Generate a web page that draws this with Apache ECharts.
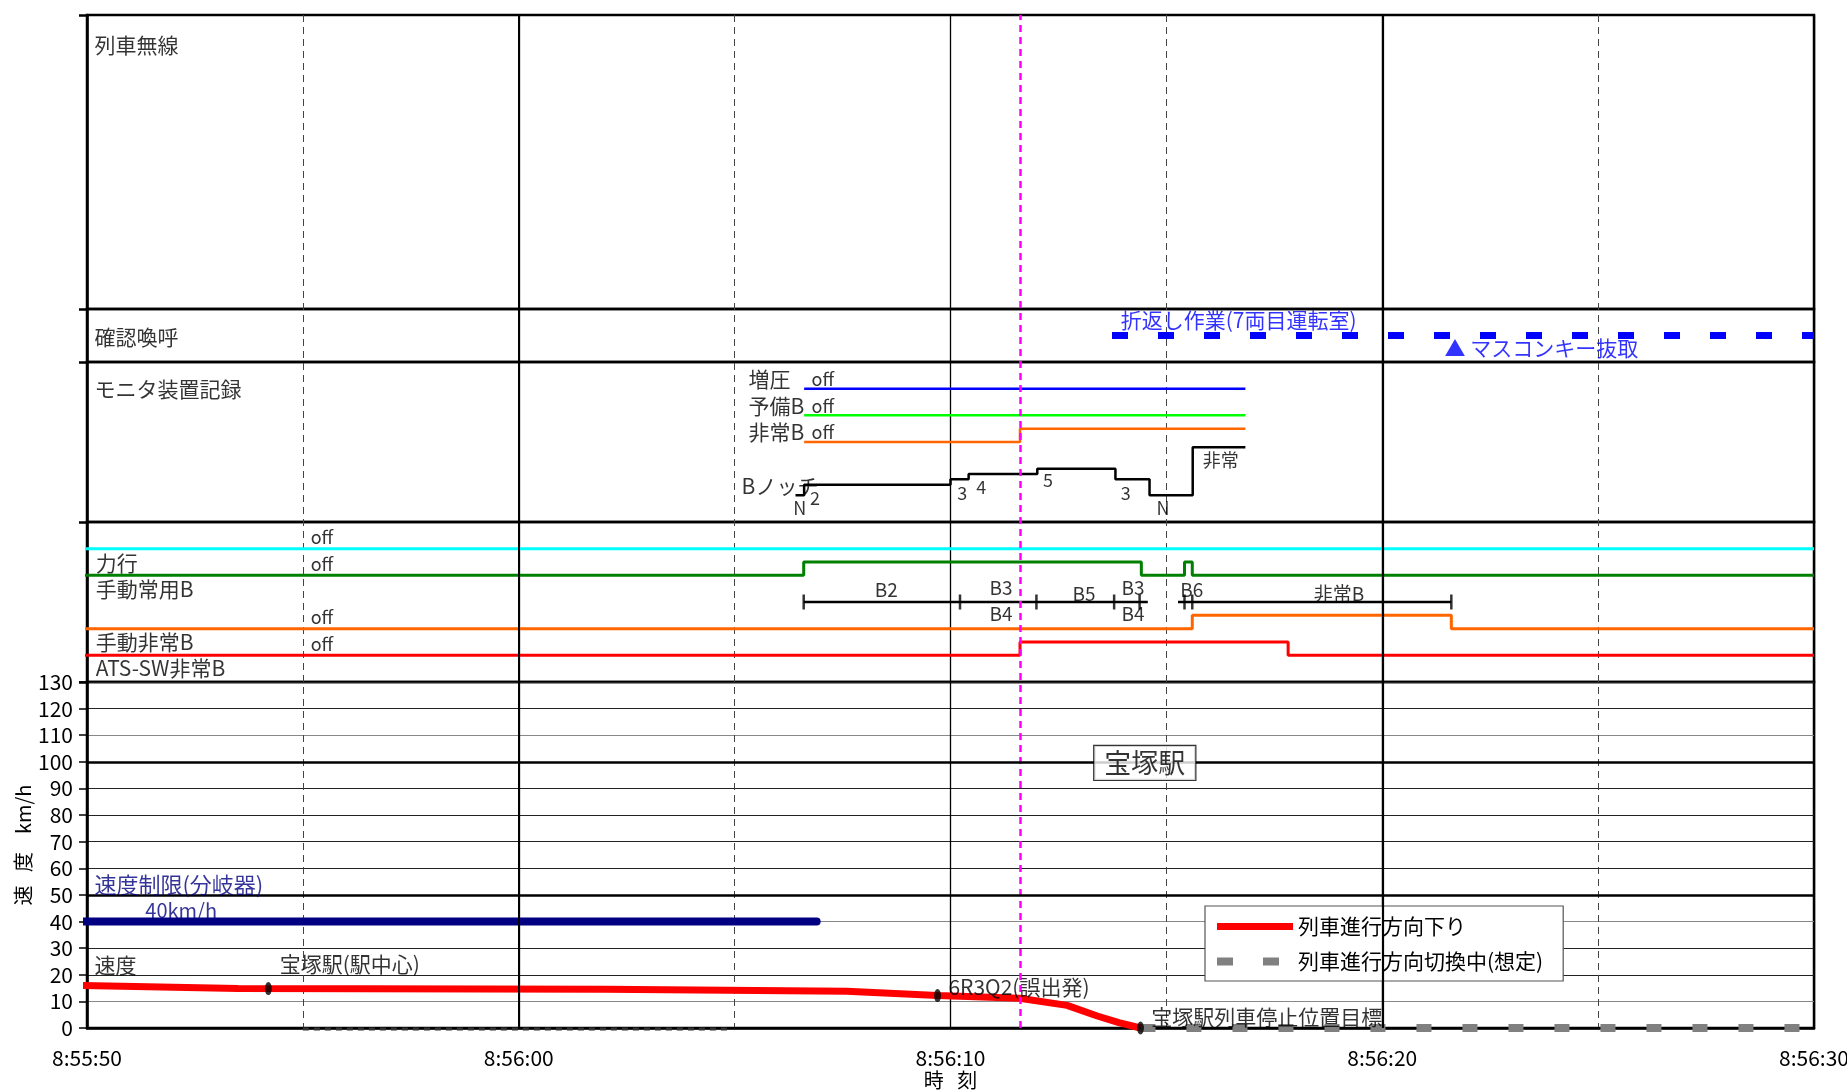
<!DOCTYPE html>
<html>
<head>
<meta charset="utf-8">
<script src="https://cdn.jsdelivr.net/npm/echarts@6/dist/echarts.min.js"></script>
<style>
html, body { margin: 0; padding: 0; background: #fff; }
#main { width: 1847px; height: 1091px; }
</style>
</head>
<body>
<div id="main"></div>
<script>
// time axis: seconds after 8:55:50
var timeLabels = ['8:55:50', '8:56:00', '8:56:10', '8:56:20', '8:56:30'];
var tMax = 40;
var magentaT = 21.61;

// 速度 (km/h)
var speedDown = [[-0.15, 16], [3.5, 14.8], [12, 14.6], [17.6, 13.8], [19.7, 12.2], [21.6, 11.2], [22.7, 8.5], [23.4, 4.5], [23.9, 2], [24.4, 0]];
var speedSwitching = [[24.4, 0], [40, 0]];
var speedOld = [[5, -0.4], [14.9, -0.4]];
var speedLimit = [[-0.16, 40], [16.9, 40]];
var speedMarks = [[4.2, 14.8], [19.7, 12.2], [24.4, 0]];

// 確認喚呼
var turnbackWork = [[23.74, 1], [40, 1]];

// モニタ装置記録 (0 = off, 1 = on)
var zouatsu = [[16.61, 0], [26.83, 0]];
var yobiB = [[16.61, 0], [26.83, 0]];
var hijoBMon = [[16.61, 0], [21.61, 1], [26.83, 1]];
// Bノッチ: N = 0, 非常 = 9
var bNotch = [[16.41, 0], [16.61, 2], [20.0, 3], [20.42, 4], [22.01, 5], [23.82, 3], [24.61, 0], [25.61, 9], [26.83, 9]];

// 信号 (0 = off, 1 = on)
var topSignal = [[-0.16, 0], [40, 0]];
var rikikou = [[-0.16, 0], [16.6, 1], [24.42, 0], [25.42, 1], [25.6, 0], [40, 0]];
var shudouHijoB = [[-0.16, 0], [25.6, 1], [31.6, 0], [40, 0]];
var atsHijoB = [[-0.16, 0], [21.61, 1], [27.82, 0], [40, 0]];
var shudouJoyoSegs = [[16.6, 24.57], [25.27, 31.6]];
var shudouJoyoTicks = [16.6, 20.22, 21.99, 23.79, 24.38, 25.42, 25.6, 31.6];

// texts [t, y, text]
var titlesA = [[0.16, 0.898, '列車無線']];
var titlesB = [[0.16, 0.94, '確認喚呼']];
var blueTexts = [[23.93, 1.585, '折返し作業(7両目運転室)'], [31.43, 0.53, '▲ マスコンキー抜取']];
var titlesC = [[0.16, 4.99, 'モニタ装置記録'], [15.31, 5.36, '増圧'], [15.31, 4.35, '予備B'], [15.31, 3.375, '非常B'], [15.15, 1.35, 'Bノッチ']];
var offC = [[16.77, 5.36, 'off'], [16.77, 4.35, 'off'], [16.77, 3.375, 'off']];
var notchTexts = [[16.51, 0.525, 'N'], [16.86, 0.9, '2'], [20.27, 1.09, '3'], [20.71, 1.31, '4'], [22.26, 1.575, '5'], [24.06, 1.09, '3'], [24.92, 0.525, 'N'], [26.26, 2.325, '非常']];
var titlesD = [[0.19, 4.47, '力行'], [0.19, 3.48, '手動常用B'], [0.19, 1.51, '手動非常B'], [0.19, 0.51, 'ATS-SW非常B']];
var offD = [[5.17, 5.44, 'off'], [5.17, 4.42, 'off'], [5.17, 2.45, 'off'], [5.17, 1.43, 'off']];
var brakeTexts = [[18.51, 3.45, 'B2'], [21.17, 3.525, 'B3'], [21.17, 2.55, 'B4'], [23.09, 3.3, 'B5'], [24.23, 3.525, 'B3'], [24.23, 2.55, 'B4'], [25.59, 3.45, 'B6'], [29.0, 3.3, '非常B']];
var speedTexts = [[0.16, 23.7, '速度'], [4.45, 24, '宝塚駅(駅中心)'], [19.94, 15.4, '6R3Q2(誤出発)'], [24.64, 4.1, '宝塚駅列車停止位置目標']];
var limitTexts = [[0.16, 53.7, '速度制限(分岐器)'], [1.34, 44, '40km/h']];
var stationText = [[24.5, 99.6, '宝塚駅']];

var JP = "'Noto Sans CJK JP', sans-serif";
var NUM = "'Liberation Sans Narrow', 'Noto Sans CJK JP', sans-serif";

var chartDom = document.getElementById('main');
var myChart = echarts.init(chartDom);

function labelSeries(idx, list, opt) {
    return {
        type: 'scatter', xAxisIndex: idx, yAxisIndex: idx, silent: true, z: 6,
        symbolSize: 1, itemStyle: { color: 'rgba(0,0,0,0)' },
        data: list.map(function (d) { return { name: d[2], value: [d[0], d[1]] }; }),
        label: Object.assign({
            show: true, formatter: '{b}', position: 'right', distance: 0,
            color: '#000', fontSize: 21, fontFamily: JP
        }, opt || {})
    };
}

function stepLine(idx, data, base, amp, color, width) {
    return {
        type: 'line', xAxisIndex: idx, yAxisIndex: idx, step: 'end', symbol: 'none',
        clip: false, silent: true, z: 3,
        data: data.map(function (d) { return [d[0], base + d[1] * amp]; }),
        lineStyle: { color: color, width: width }
    };
}

var L = 87, R = 33;
var grids = [
    { left: L, right: R, top: 15, bottom: 63, show: false },
    { left: L, right: R, top: 15, height: 294 },
    { left: L, right: R, top: 309, height: 53 },
    { left: L, right: R, top: 362, height: 160 },
    { left: L, right: R, top: 522, height: 160 },
    { left: L, right: R, top: 682, height: 346 }
];
grids.forEach(function (g, i) {
    g.outerBoundsMode = 'none';
    g.containLabel = false;
    if (i > 0) {
        g.show = true;
        g.borderColor = '#000';
        g.borderWidth = 2.5;
    }
});

var xAxes = grids.map(function (g, i) {
    var ax = { type: 'value', gridIndex: i, min: 0, max: tMax, interval: 10, show: false };
    if (i === 0) {
        ax.show = true;
        ax.axisLine = { show: false };
        ax.axisTick = { show: false };
        ax.axisLabel = { show: false };
        ax.splitLine = { show: true, lineStyle: { color: '#000', width: 1.3 } };
        ax.minorTick = { show: false, splitNumber: 2 };
        ax.minorSplitLine = { show: true, lineStyle: { color: '#444', width: 1, type: [7, 5] } };
    }
    if (i === 5) {
        ax.show = true;
        ax.axisLine = { show: true, lineStyle: { color: '#000', width: 2.5 } };
        ax.axisTick = { show: false };
        ax.splitLine = { show: false };
        ax.axisLabel = {
            fontSize: 21, fontFamily: NUM, color: '#000', margin: 20,
            formatter: function (v) { return timeLabels[Math.round(v / 10)]; }
        };
        ax.name = '時   刻';
        ax.nameLocation = 'middle';
        ax.nameGap = 42;
        ax.nameTextStyle = { fontSize: 20, fontFamily: JP, color: '#000' };
    }
    return ax;
});

var yRanges = [[0, 1, 1], [0, 1, 1], [0, 2, 2], [0, 6, 6], [0, 6, 6], [0, 130, 10]];
var yAxes = yRanges.map(function (r, i) {
    var ax = {
        type: 'value', gridIndex: i, min: r[0], max: r[1], interval: r[2],
        axisLine: { show: true, lineStyle: { color: '#000', width: 2.5 } },
        axisTick: { show: true, length: 8, lineStyle: { color: '#000', width: 2.5 } },
        axisLabel: { show: false },
        splitLine: { show: false }
    };
    if (i === 0) ax.show = false;
    if (i === 5) {
        ax.axisTick = { show: true, length: 8, lineStyle: { color: '#000', width: 1.5 } };
        ax.axisLabel = { show: true, fontSize: 21, fontFamily: NUM, color: '#000', margin: 14 };
        ax.splitLine = {
            show: true,
            lineStyle: {
                width: 1,
                color: ['#222', '#888', '#222', '#222', '#888', '#222', '#222', '#222', '#222', '#222', '#222', '#888', '#222', '#222']
            }
        };
        ax.name = '速   度    km/h';
        ax.nameLocation = 'middle';
        ax.nameRotate = 90;
        ax.nameGap = 54;
        ax.nameMoveOverlap = false;
        ax.nameTextStyle = { fontSize: 20, fontFamily: JP, color: '#000', padding: [0, 0, 0, 20] };
    }
    return ax;
});

var series = [
    // vertical lines across all bands
    {
        type: 'line', xAxisIndex: 0, yAxisIndex: 0, data: [], silent: true,
        markLine: {
            symbol: 'none', silent: true, label: { show: false },
            data: [
                { xAxis: 10, lineStyle: { color: '#000', width: 2, type: 'solid' } },
                { xAxis: 30, lineStyle: { color: '#000', width: 2.2, type: 'solid' } },
                { xAxis: magentaT, lineStyle: { color: '#FF00FF', width: 2.5, type: [7, 5] } }
            ]
        },
        z: 5
    },
    // thick speed grid lines
    {
        type: 'line', xAxisIndex: 5, yAxisIndex: 5, data: [], silent: true,
        markLine: {
            symbol: 'none', silent: true, label: { show: false },
            lineStyle: { color: '#000', width: 2.5, type: 'solid' },
            data: [{ yAxis: 50 }, { yAxis: 100 }]
        },
        z: 1
    },
    labelSeries(1, titlesA),
    labelSeries(2, titlesB),
    {
        type: 'line', xAxisIndex: 2, yAxisIndex: 2, data: turnbackWork, symbol: 'none', silent: true,
        lineStyle: { color: '#0000FF', width: 7, type: [16, 30], cap: 'butt' }
    },
    labelSeries(2, blueTexts, { color: '#0000FF', fontSize: 21 }),
    stepLine(3, zouatsu, 5, 0.5, '#0000FF', 2.5),
    stepLine(3, yobiB, 4, 0.5, '#00FF00', 2.5),
    stepLine(3, hijoBMon, 3, 0.5, '#FF6600', 2.5),
    stepLine(3, bNotch, 1, 0.2, '#000', 2.5),
    labelSeries(3, titlesC),
    labelSeries(3, offC, { fontSize: 18 }),
    labelSeries(3, notchTexts, { position: 'inside', fontSize: 18 }),
    stepLine(4, topSignal, 5, 0.5, '#00FFFF', 3),
    stepLine(4, rikikou, 4, 0.5, '#008000', 3),
    stepLine(4, shudouHijoB, 2, 0.5, '#FF6600', 3),
    stepLine(4, atsHijoB, 1, 0.5, '#FF0000', 3)
];
shudouJoyoSegs.forEach(function (s) {
    series.push({
        type: 'line', xAxisIndex: 4, yAxisIndex: 4, symbol: 'none', silent: true, z: 3,
        data: [[s[0], 3], [s[1], 3]], lineStyle: { color: '#000', width: 2.5 }
    });
});
series.push({
    type: 'scatter', xAxisIndex: 4, yAxisIndex: 4, silent: true, z: 4,
    symbol: 'rect', symbolSize: [2.5, 15], itemStyle: { color: '#000' },
    data: shudouJoyoTicks.map(function (t) { return [t, 3]; })
});
series.push(labelSeries(4, titlesD));
series.push(labelSeries(4, offD, { fontSize: 18 }));
series.push(labelSeries(4, brakeTexts, { position: 'inside', fontSize: 19 }));

series.push({
    type: 'line', xAxisIndex: 5, yAxisIndex: 5, data: speedOld, symbol: 'none', silent: true,
    clip: false, z: 3, lineStyle: { color: '#333', width: 3, type: [6, 5] }
});
series.push({
    name: '列車進行方向切換中(想定)', type: 'line', xAxisIndex: 5, yAxisIndex: 5,
    data: speedSwitching, symbol: 'none', silent: true, z: 3,
    itemStyle: { color: '#808080' },
    lineStyle: { color: '#808080', width: 8, type: [15, 31], cap: 'butt' }
});
series.push({
    type: 'line', xAxisIndex: 5, yAxisIndex: 5, data: speedLimit, symbol: 'none', silent: true,
    clip: false, z: 3, lineStyle: { color: '#000080', width: 8, cap: 'round' }
});
series.push({
    name: '列車進行方向下り', type: 'line', xAxisIndex: 5, yAxisIndex: 5,
    data: speedDown, symbol: 'none', silent: true, clip: false, z: 4,
    itemStyle: { color: '#FF0000' },
    lineStyle: { color: '#FF0000', width: 7 }
});
series.push({
    type: 'scatter', xAxisIndex: 5, yAxisIndex: 5, data: speedMarks, silent: true, z: 5,
    symbol: 'circle', symbolSize: [7, 13], itemStyle: { color: '#000' }
});
series.push(labelSeries(5, speedTexts, { fontSize: 21 }));
series.push(labelSeries(5, limitTexts.slice(0, 1), { fontSize: 22, color: '#000080' }));
series.push(labelSeries(5, limitTexts.slice(1), { fontSize: 20, color: '#000080' }));
series.push(labelSeries(5, stationText, {
    position: 'inside', fontSize: 27, backgroundColor: '#fff',
    borderColor: '#000', borderWidth: 1.2, padding: [4, 10, 3, 10]
}));

var option = {
    animation: false,
    backgroundColor: '#fff',
    textStyle: { fontFamily: JP },
    grid: grids,
    xAxis: xAxes,
    yAxis: yAxes,
    legend: {
        left: 1205, top: 906, orient: 'vertical',
        itemWidth: 76, itemHeight: 12, itemGap: 14,
        padding: [10, 20, 9, 8],
        backgroundColor: '#fff', borderColor: '#555', borderWidth: 1.2,
        textStyle: { fontSize: 21, color: '#000', fontFamily: JP },
        data: [
            { name: '列車進行方向下り', itemStyle: { opacity: 0 }, lineStyle: { color: '#FF0000', width: 7 } },
            { name: '列車進行方向切換中(想定)', itemStyle: { opacity: 0 }, lineStyle: { color: '#808080', width: 8, type: [16, 30] } }
        ]
    },
    series: series
};

option && myChart.setOption(option);
</script>
</body>
</html>
